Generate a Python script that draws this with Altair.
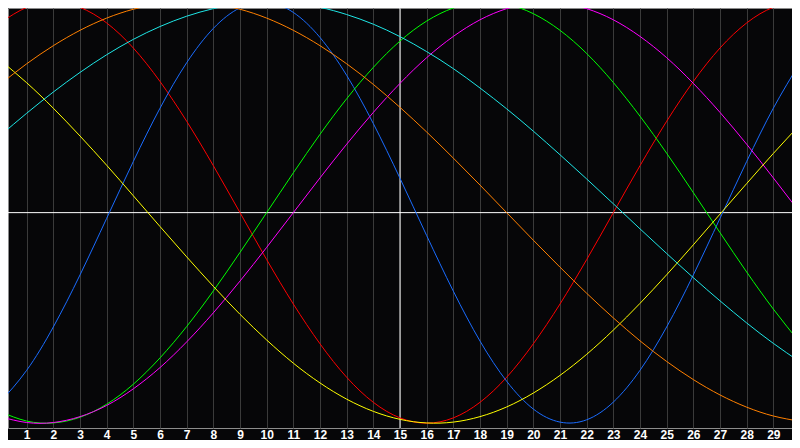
import altair as alt
import pandas as pd

# Days shown along the bottom axis
days = list(range(31))
tick_days = list(range(1, 30))

# Curve values at each day (range -1 .. 1)
physical = [-0.900, -0.749, -0.543, -0.296, -0.027, 0.243, 0.496, 0.712, 0.875, 0.973,
            0.999, 0.951, 0.832, 0.652, 0.423, 0.163, -0.109, -0.373, -0.610, -0.801,
            -0.933, -0.995, -0.984, -0.900, -0.749, -0.543, -0.296, -0.027, 0.243, 0.496, 0.712]
emotional = [0.901, 0.975, 1.000, 0.975, 0.901, 0.782, 0.623, 0.434, 0.223, 0.000,
             -0.223, -0.434, -0.623, -0.782, -0.901, -0.975, -1.000, -0.975, -0.901, -0.782,
             -0.623, -0.434, -0.223, 0.000, 0.223, 0.434, 0.623, 0.782, 0.901, 0.975, 1.000]
intellectual = [-0.945, -0.990, -0.999, -0.972, -0.910, -0.815, -0.690, -0.541, -0.372, -0.189,
                0.000, 0.189, 0.372, 0.541, 0.690, 0.815, 0.910, 0.972, 0.999, 0.990,
                0.945, 0.866, 0.756, 0.618, 0.458, 0.282, 0.095, -0.095, -0.282, -0.458, -0.618]
intuitive = [-0.969, -0.997, -0.997, -0.969, -0.916, -0.837, -0.736, -0.614, -0.476, -0.325,
             -0.165, 0.000, 0.165, 0.325, 0.476, 0.614, 0.736, 0.837, 0.916, 0.969,
             0.997, 0.997, 0.969, 0.916, 0.837, 0.736, 0.614, 0.476, 0.325, 0.165, 0.000]
aesthetic = [0.725, 0.617, 0.496, 0.364, 0.225, 0.080, -0.066, -0.210, -0.350, -0.483,
             -0.605, -0.715, -0.809, -0.886, -0.944, -0.982, -0.999, -0.995, -0.969, -0.923,
             -0.857, -0.773, -0.673, -0.558, -0.431, -0.295, -0.153, -0.007, 0.138, 0.281, 0.418]
awareness = [0.609, 0.707, 0.793, 0.866, 0.924, 0.966, 0.991, 1.000, 0.991, 0.966,
             0.924, 0.866, 0.793, 0.707, 0.609, 0.500, 0.383, 0.259, 0.131, 0.000,
             -0.131, -0.259, -0.383, -0.500, -0.609, -0.707, -0.793, -0.866, -0.924, -0.966, -0.991]
spiritual = [0.365, 0.472, 0.573, 0.666, 0.750, 0.823, 0.884, 0.933, 0.969, 0.992,
             1.000, 0.994, 0.975, 0.941, 0.895, 0.836, 0.765, 0.684, 0.592, 0.493,
             0.387, 0.275, 0.160, 0.042, -0.077, -0.194, -0.309, -0.419, -0.524, -0.621, -0.709]

series_names = ["Emotional", "Physical", "Intellectual", "Intuitive", "Aesthetic", "Awareness", "Spiritual"]
series_values = [emotional, physical, intellectual, intuitive, aesthetic, awareness, spiritual]
series_colors = ["#ff0000", "#1a6cff", "#00ff00", "#ff00ff", "#ffff00", "#ff8000", "#1ee6e6"]

rows = []
for name, vals in zip(series_names, series_values):
    for d, v in zip(days, vals):
        rows.append({"day": d, "value": v, "series": name})
df = pd.DataFrame(rows)

x_scale = alt.Scale(domain=[0.3, 29.7], nice=False, zero=False)
y_scale = alt.Scale(domain=[-1.023, 0.972], nice=False, zero=False)

x_axis = alt.Axis(values=tick_days, grid=True, gridColor="#3a3a3a", gridWidth=1,
                  ticks=False, domain=False, labelColor="#ffffff",
                  labelFont="Liberation Sans", labelFontWeight="bold", labelFontSize=12,
                  labelPadding=1, labelBaseline="top", labelFlush=False, labelOverlap=False,
                  title=None)

lines = alt.Chart(df).mark_line(strokeWidth=1, interpolate="natural", clip=True).encode(
    x=alt.X("day:Q", scale=x_scale, axis=x_axis),
    y=alt.Y("value:Q", scale=y_scale, axis=None),
    color=alt.Color("series:N", scale=alt.Scale(domain=series_names, range=series_colors), legend=None),
    detail="series:N",
)

vrule = alt.Chart(pd.DataFrame({"day": [15]})).mark_rule(color="#ffffff", strokeWidth=1).encode(
    x=alt.X("day:Q", scale=x_scale, axis=x_axis)
)
hrule = alt.Chart(pd.DataFrame({"value": [0]})).mark_rule(color="#ffffff", strokeWidth=1).encode(
    y=alt.Y("value:Q", scale=y_scale, axis=None)
)

chart = alt.layer(vrule, hrule, lines).properties(
    width=784, height=420,
    padding={"left": 0, "top": 0, "right": 0, "bottom": 12},
    autosize=alt.AutoSizeParams(type="none"),
    background="#060608",
).configure_view(stroke="#8c8c8c", strokeWidth=1, fill="#060608")

chart.save("out.html", embed_options={"renderer": "svg", "actions": False})
